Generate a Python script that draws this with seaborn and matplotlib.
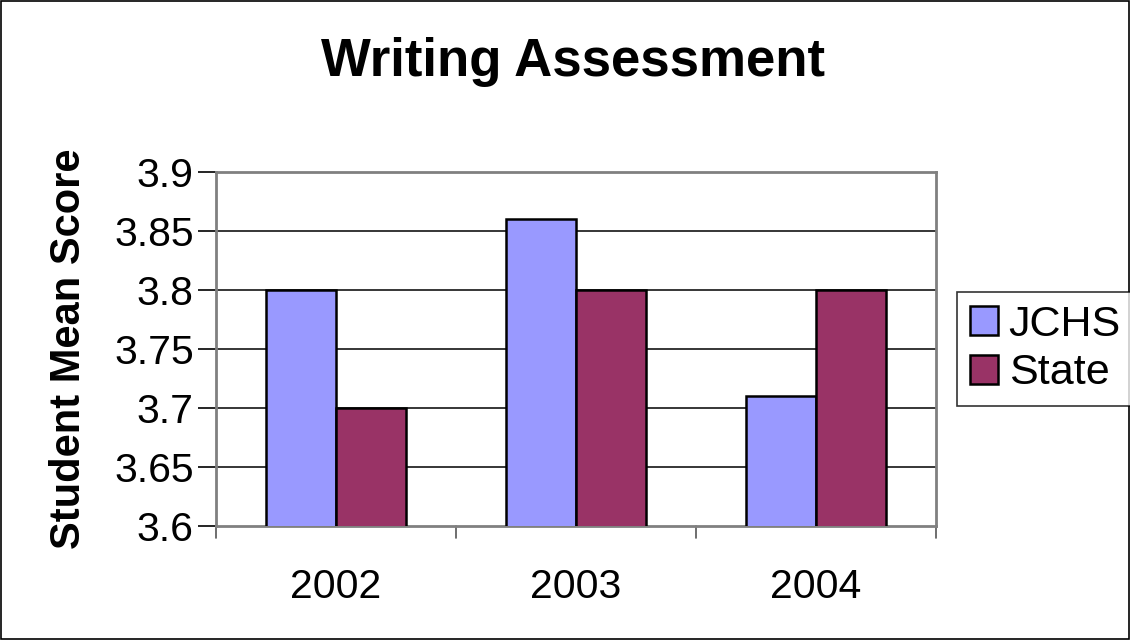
import matplotlib
matplotlib.use("Agg")
import matplotlib.pyplot as plt
import seaborn as sns
import pandas as pd
from matplotlib.patches import Rectangle

years = ["2002", "2003", "2004"]
jchs = [3.80, 3.86, 3.71]
state = [3.70, 3.80, 3.80]
series_names = ["JCHS", "State"]
colors = ["#9999FF", "#993366"]
yticks = [3.6, 3.65, 3.7, 3.75, 3.8, 3.85, 3.9]
ytick_labels = ["3.6", "3.65", "3.7", "3.75", "3.8", "3.85", "3.9"]

df = pd.DataFrame({
    "Year": years * 2,
    "Score": jchs + state,
    "Series": [series_names[0]] * 3 + [series_names[1]] * 3,
})

sns.set_theme(style="white")
plt.rcParams["font.family"] = ["Liberation Sans", "DejaVu Sans"]
plt.rcParams["text.color"] = "black"
plt.rcParams["axes.labelcolor"] = "black"
plt.rcParams["xtick.color"] = "black"
plt.rcParams["ytick.color"] = "black"

fig = plt.figure(figsize=(11.3, 6.4), dpi=100)
ax = fig.add_axes([216/1130, 1-526/640, 720/1130, 354/640])

sns.barplot(data=df, x="Year", y="Score", hue="Series", palette=colors,
            saturation=1, width=0.58, edgecolor="black", linewidth=1.8,
            ax=ax, legend=False, zorder=3)

ax.set_ylim(3.6, 3.9)
ax.set_xlim(-0.5, 2.5)
ax.set_yticks(yticks)
ax.set_yticklabels(ytick_labels, fontsize=29.5)
ax.set_xticks([0, 1, 2])
ax.set_xticklabels(years, fontsize=29.5)
ax.tick_params(axis="x", length=0, pad=30)
ax.tick_params(axis="y", length=13, width=1.2, color="black", left=True, pad=3)
for b in [-0.5, 0.5, 1.5, 2.5]:
    ax.plot([b, b], [-0.035, 0], transform=ax.get_xaxis_transform(),
            color="#555555", lw=1.2, clip_on=False)

for y in yticks[1:-1]:
    ax.axhline(y, color="black", lw=1.1, zorder=1)
for s in ax.spines.values():
    s.set_color("#808080")
    s.set_linewidth(2)

ax.set_xlabel("")
ax.set_ylabel("Student Mean Score", fontsize=30, fontweight="bold", labelpad=18)

fig.text(573/1130, 1-62/640, "Writing Assessment", fontsize=38,
         fontweight="bold", ha="center", va="center")

handles = [Rectangle((0, 0), 1, 1, facecolor=c, edgecolor="black", lw=1.8)
           for c in colors]
leg = fig.legend(handles, series_names, loc="center left",
                 bbox_to_anchor=(957/1130, 1-349/640), fontsize=31,
                 frameon=True, fancybox=False, handlelength=0.65,
                 handleheight=0.65, handletextpad=0.25, borderpad=0.3,
                 labelspacing=0.2, borderaxespad=0)
leg.get_frame().set_edgecolor("black")
leg.get_frame().set_linewidth(1.2)

fig.patches.append(Rectangle((0.0005, 0.0008), 0.999, 0.998, transform=fig.transFigure,
                             fill=False, edgecolor="black", lw=1.2))

fig.savefig("out.png", dpi=100)
